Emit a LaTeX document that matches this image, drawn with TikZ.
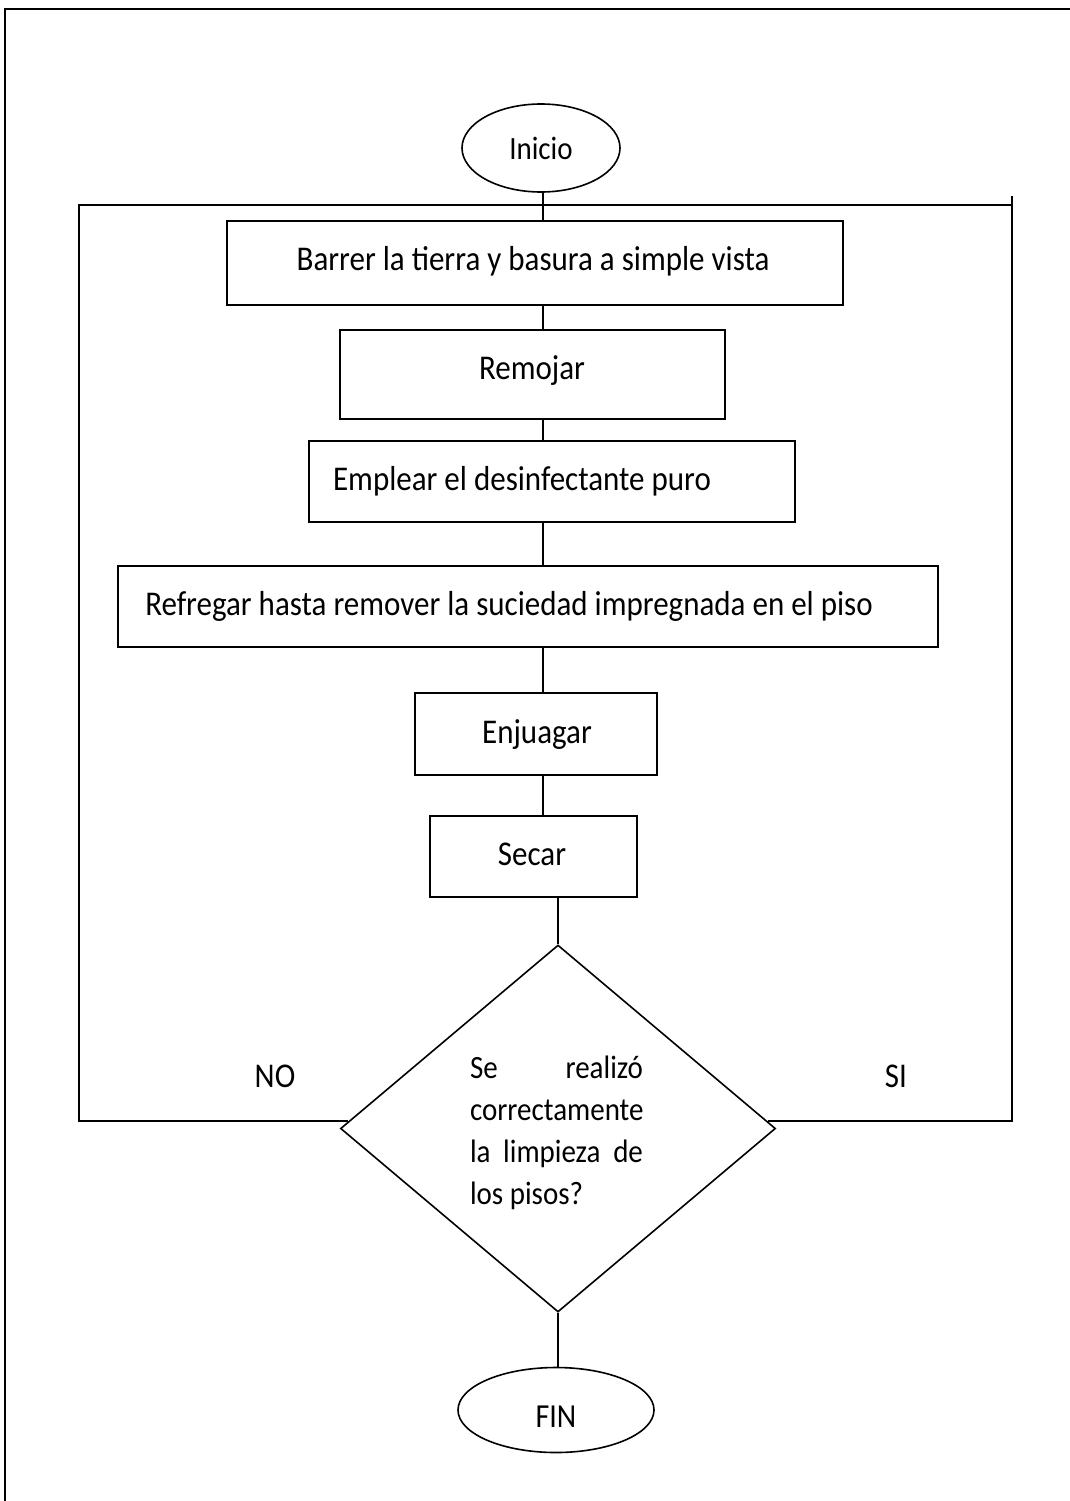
\documentclass[tikz,border=0pt]{standalone}
\usepackage{fontspec}
\setmainfont{Carlito}
\usetikzlibrary{shapes.geometric}
\newcommand{\stt}[1]{\scalebox{1}[1.12]{#1}}
\begin{document}
\begin{tikzpicture}[x=1pt,y=-1pt,line width=1.6pt,
  box/.style={draw,rectangle,inner sep=0pt},
  term/.style={draw,ellipse,inner sep=0pt,font=\fontsize{29}{34}\selectfont},
  txt/.style={inner sep=0pt,anchor=base,font=\fontsize{31}{37}\selectfont},
  decision/.style={draw,diamond,inner sep=0pt}]
\useasboundingbox (0,0) rectangle (1070,1501);
% outer frame
\draw (5,1501) -- (5,9) -- (1070,9);
% terminals
\node[term,minimum width=158,minimum height=88] (ini) at (541,148) {\stt{Inicio}};
\node[term,minimum width=196,minimum height=85] (fin) at (556,1410) {};
\node[txt,font=\fontsize{30}{36}\selectfont] (fint) at (556,1427) {\stt{FIN}};
% process boxes
\node[box,minimum width=616,minimum height=84] (b1) at (535,263) {};
\node[box,minimum width=385,minimum height=89] (b2) at (532.5,374.5) {};
\node[box,minimum width=486,minimum height=81] (b3) at (552,481.5) {};
\node[box,minimum width=820,minimum height=81] (b4) at (528,606.5) {};
\node[box,minimum width=242,minimum height=82] (b5) at (536,734) {};
\node[box,minimum width=207,minimum height=81] (b6) at (533.5,856.5) {};
\node[txt] (t1) at (533,270) {\stt{Barrer la tierra y basura a simple vista}};
\node[txt] (t2) at (532,379) {\stt{Remojar}};
\node[txt] (t3) at (522,490) {\stt{Emplear el desinfectante puro}};
\node[txt] (t4) at (509,615) {\stt{Refregar hasta remover la suciedad impregnada en el piso}};
\node[txt] (t5) at (537,743) {\stt{Enjuagar}};
\node[txt] (t6) at (532,865) {\stt{Secar}};
% decision
\node[decision,minimum width=435,minimum height=367] (dec) at (558,1128.5) {};
\node[inner sep=0pt,font=\fontsize{29}{37.5}\selectfont] (dtxt) at (556.5,1133)
  {\stt{\parbox{173pt}{Se realizó\linebreak correctamente\linebreak la limpieza de\linebreak los pisos?}}};
\node[txt] (no) at (275,1087) {\stt{NO}};
\node[txt] (si) at (896,1087) {\stt{SI}};
% connector helpers
\coordinate (cx) at (543,0);
\coordinate (ltop) at (79,205);
\coordinate (rtop) at (1012,205);
\coordinate (rtip) at (1012,196);
% connectors
\draw (ini.south -| cx) -- (b1.north -| cx);
\draw (b1.south -| cx) -- (b2.north -| cx);
\draw (b2.south -| cx) -- (b3.north -| cx);
\draw (b3.south -| cx) -- (b4.north -| cx);
\draw (b4.south -| cx) -- (b5.north -| cx);
\draw (b5.south -| cx) -- (b6.north -| cx);
\draw (b6.south -| dec.north) -- (dec.north);
\draw (dec.south) -- (fin.north -| dec.south);
% loop lines
\draw (dec.178) -| (ltop) -- (rtop);
\draw (dec.2) -| (rtip);
\end{tikzpicture}
\end{document}
